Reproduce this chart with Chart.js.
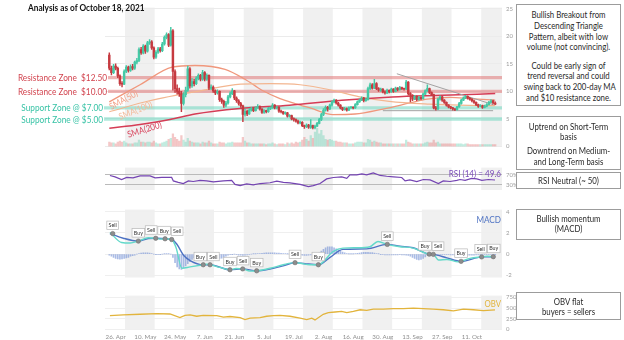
<!DOCTYPE html>
<html>
<head>
<meta charset="utf-8">
<script src="https://cdn.jsdelivr.net/npm/chart.js@4.4.1/dist/chart.umd.min.js"></script>
<style>
  html, body { margin: 0; padding: 0; background: #fff; }
  #wrap { position: relative; width: 624px; height: 340px; overflow: hidden; font-family: Lato, 'Open Sans', sans-serif; }
  canvas { position: absolute; left: 0; }
  #title { position: absolute; left: 28px; top: 2px; font-weight: bold; font-size: 9.6px; line-height: 12px; color: #111; white-space: nowrap; transform: scaleX(0.86); transform-origin: 0 0; }
  .box { position: absolute; left: 516px; width: 105px; border: 1px solid #9c9c9c; box-sizing: border-box; background: #fff; color: #2a2a2a; font-size: 9px; line-height: 10.8px; text-align: center; }
  .box .t { transform: scaleX(0.87); transform-origin: 50% 0; white-space: nowrap; }
  .box .gap { height: 7.5px; }
</style>
</head>
<body>
<div id="wrap">
  <canvas id="cMain" width="624" height="160" style="top:0;width:624px;height:160px"></canvas>
  <canvas id="cRsi" width="624" height="42" style="top:160px;width:624px;height:42px"></canvas>
  <canvas id="cMacd" width="624" height="88" style="top:202px;width:624px;height:88px"></canvas>
  <canvas id="cObv" width="624" height="52" style="top:288px;width:624px;height:52px"></canvas>

  <div id="title">Analysis as of October 18, 2021</div>

  <div class="box" style="top:4px;height:102px;padding-top:5px"><div class="t">
    Bullish Breakout from<br>Descending Triangle<br>Pattern, albeit with low<br>volume (not convincing).
    <div class="gap"></div>
    Could be early sign of<br>trend reversal and could<br>swing back to 200-day MA<br>and $10 resistance zone.
  </div></div>
  <div class="box" style="top:116px;height:54px;padding-top:4.5px"><div class="t">
    Uptrend on Short-Term<br>basis
    <div class="gap" style="height:3.4px"></div>
    Downtrend on Medium-<br>and Long-Term basis
  </div></div>
  <div class="box" style="top:172px;height:17px;padding-top:2.5px"><div class="t">RSI Neutral (~ 50)</div></div>
  <div class="box" style="top:209px;height:31px;padding-top:3.5px"><div class="t">Bullish momentum<br>(MACD)</div></div>
  <div class="box" style="top:292px;height:28px;padding-top:3.5px"><div class="t">OBV flat<br>buyers = sellers</div></div>
</div>

<script>
// ---------- time axis: day 0 = 23 Apr 2021 ----------
const tickDays   = [3, 17, 31, 45, 59, 73, 87, 101, 115, 129, 143, 157, 171];
const tickLabels = ['26. Apr', '10. May', '24. May', '7. Jun', '21. Jun', '5. Jul', '19. Jul',
                    '2. Aug', '16. Aug', '30. Aug', '13. Sep', '27. Sep', '11. Oct'];
const bandStarts = [7.4, 35.4, 63.4, 91.4, 119.4, 147.4, 175.4];   // shaded fortnights
const BAND_DAYS = 14;
const X_MIN = -2.03, X_MAX = 185.2;

// ---------- daily price candles (USD) ----------
const firstOpen = 16.6;
const close = [
  14.2, 13.4, 14.6, 14.2, 12.8, 11.4, 11.3, 13.6, 14.4, 13.8,
  14.5, 14.2, 15.3, 15.6, 17.6, 17.0, 18.2, 17.3, 18.8, 19.0,
  17.9, 16.2, 17.1, 17.7, 17.4, 18.6, 19.8, 20.3, 18.4, 21.0,
  13.6, 10.5, 10.0, 9.6, 7.8, 9.4, 10.2, 14.1, 11.0, 11.8,
  11.4, 12.4, 12.9, 12.2, 13.4, 12.2, 12.9, 10.6, 10.8, 10.1,
  9.7, 10.0, 8.5, 8.2, 7.5, 7.9, 9.0, 9.6, 10.1, 8.8,
  8.3, 7.8, 7.4, 5.8, 6.4, 5.9, 6.6, 6.9, 6.5, 7.0,
  7.3, 6.8, 6.2, 6.5, 6.3, 6.9, 7.0, 7.5, 7.0, 7.1,
  6.4, 6.3, 6.0, 6.1, 5.5, 5.6, 5.0, 4.9, 4.6, 4.3,
  4.4, 3.8, 3.6, 3.9, 3.5, 3.8, 3.4, 3.7, 4.2, 4.9,
  5.8, 6.6, 7.1, 6.8, 7.5, 8.1, 8.4, 7.9, 7.5, 7.0,
  6.7, 6.9, 6.6, 7.0, 7.1, 7.0, 7.6, 8.1, 8.4, 8.8,
  8.3, 8.5, 10.5, 11.2, 10.6, 11.4, 10.5, 10.2, 10.4, 9.9,
  9.7, 10.2, 9.9, 10.4, 10.0, 10.6, 10.3, 10.7, 10.5, 10.4,
  11.7, 9.6, 9.3, 8.6, 9.1, 8.5, 8.9, 8.7, 9.5, 10.1,
  10.5, 9.8, 9.4, 7.0, 6.8, 8.6, 9.0, 8.4, 8.0, 7.5,
  7.2, 7.0, 6.8, 6.7, 7.2, 7.8, 8.4, 8.8, 9.1, 8.8,
  8.6, 8.3, 8.0, 7.6, 7.3, 7.4, 7.1, 7.3, 7.6, 8.0,
  8.3, 7.9, 7.7
];
const high = [
  17.0, 14.6, 14.9, 15.0, 14.4, 13.0, 11.8, 13.9, 14.7, 14.6,
  14.8, 14.9, 15.5, 16.0, 17.9, 18.0, 18.5, 18.4, 19.1, 19.4,
  19.2, 18.1, 17.4, 18.0, 18.0, 18.9, 20.1, 20.6, 20.5, 21.6,
  21.2, 13.9, 11.2, 10.6, 10.0, 9.8, 10.8, 14.6, 14.3, 12.3,
  12.2, 12.7, 13.2, 13.1, 13.8, 13.6, 13.2, 13.0, 11.2, 11.0,
  10.3, 10.3, 10.1, 8.8, 8.4, 8.2, 9.3, 9.9, 10.5, 10.2,
  9.0, 8.5, 8.0, 7.5, 6.8, 6.6, 6.9, 7.1, 7.0, 7.2,
  7.6, 7.4, 6.9, 6.7, 6.6, 7.1, 7.2, 7.8, 7.6, 7.3,
  7.2, 6.6, 6.4, 6.3, 6.2, 5.8, 5.7, 5.2, 5.0, 4.8,
  4.6, 4.5, 3.9, 4.1, 4.0, 4.9, 3.9, 3.9, 4.4, 5.1,
  6.0, 6.9, 7.4, 7.3, 7.7, 8.3, 8.6, 8.5, 8.0, 7.6,
  7.1, 7.1, 7.0, 7.2, 7.3, 7.2, 7.8, 8.3, 8.6, 9.0,
  8.9, 8.8, 10.8, 11.5, 11.4, 12.2, 11.6, 10.7, 10.6, 10.5,
  10.1, 10.4, 10.3, 10.6, 10.5, 10.8, 10.7, 10.9, 10.8, 10.6,
  12.0, 11.8, 9.8, 9.4, 9.3, 9.2, 9.1, 9.0, 9.7, 10.3,
  11.2, 10.6, 9.9, 9.5, 7.3, 8.8, 9.2, 9.1, 8.5, 8.1,
  7.6, 7.3, 7.1, 6.9, 7.3, 8.0, 8.6, 9.0, 9.3, 9.2,
  8.9, 8.7, 8.4, 8.1, 7.7, 7.6, 7.5, 7.5, 7.8, 8.2,
  8.5, 8.4, 8.1
];
const low = [
  13.9, 13.0, 13.2, 13.9, 12.5, 11.1, 10.8, 11.2, 13.4, 13.5,
  13.6, 13.9, 14.0, 15.0, 15.4, 16.7, 16.8, 16.9, 17.1, 18.5,
  17.6, 15.9, 16.0, 16.9, 17.1, 17.2, 18.4, 19.5, 18.1, 18.2,
  10.2, 9.8, 9.5, 9.1, 6.3, 7.5, 9.0, 10.0, 10.6, 10.7,
  11.0, 11.2, 12.1, 11.9, 12.0, 11.9, 12.0, 10.3, 10.3, 9.8,
  9.4, 9.5, 8.2, 7.8, 7.1, 7.2, 7.7, 8.8, 9.4, 8.5,
  8.0, 7.5, 7.1, 4.5, 5.5, 5.6, 5.8, 6.4, 6.3, 6.4,
  6.9, 6.6, 6.0, 6.0, 6.1, 6.2, 6.7, 6.9, 6.8, 6.8,
  6.2, 6.1, 5.8, 5.8, 5.3, 5.3, 4.8, 4.6, 4.4, 4.1,
  4.1, 3.6, 3.3, 3.4, 3.3, 3.3, 3.2, 3.2, 3.6, 4.1,
  4.7, 5.6, 6.4, 6.4, 6.7, 7.3, 7.9, 7.7, 7.3, 6.8,
  6.5, 6.6, 6.4, 6.5, 6.9, 6.8, 6.9, 7.5, 8.0, 8.3,
  8.1, 8.2, 8.4, 10.3, 10.4, 10.5, 10.3, 10.0, 10.0, 9.7,
  9.5, 9.6, 9.7, 9.8, 9.8, 9.9, 10.1, 10.2, 10.3, 10.2,
  10.3, 9.3, 8.1, 8.3, 8.5, 8.3, 8.4, 8.5, 8.6, 9.4,
  10.0, 9.6, 9.2, 6.8, 6.6, 6.7, 8.4, 8.2, 7.8, 7.3,
  7.0, 6.8, 6.6, 6.5, 6.6, 7.1, 7.7, 8.3, 8.7, 8.6,
  8.4, 8.1, 7.8, 7.4, 7.1, 7.2, 6.9, 7.0, 7.2, 7.5,
  7.9, 7.7, 7.6
];
// daily volume (millions)
const volume = [
  50, 40, 40, 30, 50, 60, 50, 60, 40, 30,
  30, 30, 40, 40, 70, 50, 50, 40, 50, 50,
  40, 60, 40, 30, 30, 40, 50, 60, 80, 90,
  140, 100, 80, 60, 120, 70, 50, 90, 60, 50,
  40, 40, 40, 30, 50, 40, 40, 60, 40, 30,
  30, 30, 50, 40, 40, 30, 40, 40, 50, 40,
  40, 40, 40, 100, 60, 40, 40, 30, 30, 30,
  30, 30, 30, 30, 20, 30, 30, 40, 30, 20,
  30, 30, 30, 20, 40, 30, 40, 30, 50, 40,
  50, 70, 100, 80, 60, 120, 90, 160, 200, 140,
  180, 120, 80, 70, 80, 70, 60, 60, 50, 50,
  40, 40, 40, 30, 30, 30, 40, 50, 50, 50,
  40, 40, 80, 70, 50, 60, 50, 40, 40, 30,
  30, 30, 30, 30, 30, 30, 30, 30, 30, 30,
  70, 50, 40, 30, 30, 30, 30, 30, 30, 40,
  50, 40, 40, 70, 40, 50, 30, 30, 30, 30,
  30, 30, 30, 30, 30, 30, 30, 20, 30, 30,
  20, 20, 20, 20, 20, 20, 20, 20, 20, 20,
  20, 20, 20
];

// ---------- moving averages ----------
const sma50Days  = [0, 14.5, 29.6, 40.4, 54.6, 64, 72, 80.5, 87.6, 94.7, 105.5, 115.9, 129.1, 141.8, 149.9, 160.7, 170.1, 182];
const sma50      = [8.1, 11.2, 14.4, 14.7, 14.0, 12.2, 10.2, 8.7, 7.8, 7.0, 5.8, 5.9, 6.8, 7.9, 8.6, 8.9, 8.7, 8.4];
const sma100Days = [0, 19, 43, 62, 76, 90, 104, 118, 132, 151, 165, 182];
const sma100     = [6.3, 8.3, 10.1, 11.3, 11.4, 11.2, 10.3, 9.0, 8.2, 7.7, 7.5, 7.4];
const sma200Days = [0, 14.5, 28.6, 40.4, 61.7, 85, 109.6, 133.4, 157, 182];
const sma200     = [3.3, 4.0, 4.9, 5.9, 6.9, 7.5, 8.4, 9.0, 9.3, 9.6];

// ---------- zones and triangle ----------
const resistanceLevels = [12.5, 10];
const supportLevels    = [7, 5];
const triUpperDays = [135.6, 181];
const triUpper     = [13.2, 7.6];
const triBaseDays  = [129, 181];
const triBase      = [6.5, 6.5];

// ---------- RSI (14) ----------
const rsiDays = [0.3, 2.7, 5.8, 8.2, 11.2, 14.5, 19.2, 21.6, 24.7, 29.4, 30.2, 32.5, 34.9, 37.3, 39.6,
  42.8, 45.9, 49.1, 53.8, 57.7, 59.3, 61.7, 64.8, 67.9, 71.1, 75.8, 79, 82.1, 85.2, 90, 93.9, 96.2,
  99.4, 102.5, 105.7, 109.6, 112, 113.5, 116.7, 119.1, 121.4, 124.5, 127.7, 130.8, 134, 137.9, 139.5,
  141.8, 145, 148.1, 151.3, 155.2, 157.5, 160.7, 163.9, 165.4, 167.8, 170.9, 173.3, 175.7, 178.8, 181.9];
const rsiValues = [67.6, 62, 51.6, 59.6, 58, 66, 66, 58, 59.6, 59.6, 46, 40.5, 35.6, 46, 43.6,
  48.4, 46, 42, 46, 48.4, 32, 27.5, 34, 30, 35.6, 38.8, 45, 40.5, 38, 32, 23.7, 27.5,
  35.6, 54, 59.6, 62, 56, 70, 70, 74, 70, 78, 67.6, 64.5, 62, 59.6, 46,
  50, 43.6, 51.6, 50, 35.6, 46, 43.6, 48.4, 51.6, 48.4, 56, 54, 48.4, 51.6, 49.6];
const rsiLast = 49.6;

// ---------- MACD ----------
const macdDays = [0.3, 5.8, 9.8, 13.7, 18.4, 21.9, 23.9, 26.3, 29.4, 31.5, 34.2, 38.1, 44.3, 45.9, 47.5,
  52.2, 56.9, 59.8, 62.9, 66.4, 69.5, 75.8, 82, 87.6, 90, 94.7, 98.6, 105.5, 110.2, 116.8, 122.9,
  126.7, 131.1, 137.1, 143.3, 148, 150.9, 152.8, 155.2, 159.2, 164.6, 165.9, 170.1, 175.6, 178.2, 181.1, 181.9];
const macdValues = [2.05, 1.1, 1.05, 1.23, 1.55, 1.5, 1.42, 1.45, 1.38, 0.6, -1.33, -1.2, -1.0, -0.95, -1.0,
  -1.25, -1.47, -1.35, -1.39, -1.6, -1.57, -1.33, -1.0, -0.8, -0.86, -1.0, -1.0, 0.24, 0.57, 0.6, 0.7,
  1.2, 0.92, 0.7, 0.57, 0.18, 0.0, -0.02, -0.55, -0.5, -0.73, -0.68, -0.4, -0.26, -0.2, -0.24, -0.2];
const signalDays = [0.3, 6.6, 13.7, 18.4, 21.9, 26.3, 29.4, 31.8, 34.9, 38.1, 44.3, 47.5, 56.9, 62.9, 69.5,
  75.8, 82, 87.6, 92.3, 98.6, 104.1, 110.2, 121.4, 131.1, 137.1, 143.3, 150.9, 152.8, 159.2, 165.9,
  175.6, 181.1, 181.9];
const signalValues = [1.95, 1.5, 1.23, 1.48, 1.5, 1.45, 1.38, 0.96, -0.08, -0.6, -1.0, -1.0, -1.47, -1.39, -1.57,
  -1.4, -1.1, -0.8, -0.9, -1.0, -0.3, 0.45, 0.5, 0.92, 0.75, 0.6, 0.0, -0.02, -0.35, -0.68,
  -0.26, -0.24, -0.23];
const macdHist = [
  -0.1, -0.2, -0.3, -0.4, -0.45, -0.47, -0.45, -0.4, -0.35, -0.3,
  -0.2, -0.15, -0.1, 0.0, 0.05, 0.1, 0.12, 0.13, 0.12, 0.1,
  0.05, 0.0, -0.02, -0.03, -0.02, 0.0, 0.02, 0.03, 0.02, 0.0,
  -0.3, -0.8, -1.2, -1.4, -1.43, -1.3, -1.1, -0.9, -0.7, -0.5,
  -0.35, -0.25, -0.15, -0.05, 0.0, 0.02, 0.02, 0.0, -0.1, -0.2,
  -0.3, -0.38, -0.4, -0.38, -0.3, -0.2, -0.1, -0.05, -0.02, 0.0,
  -0.05, -0.1, -0.1, -0.12, -0.1, -0.08, -0.05, 0.0, 0.02, 0.03,
  0.05, 0.06, 0.08, 0.1, 0.12, 0.13, 0.13, 0.12, 0.12, 0.1,
  0.1, 0.08, 0.06, 0.05, 0.03, 0.02, 0.01, 0.0, -0.02, -0.05,
  -0.08, -0.1, -0.12, -0.12, -0.1, -0.08, -0.05, -0.03, 0.0, 0.15,
  0.3, 0.45, 0.6, 0.68, 0.7, 0.68, 0.6, 0.5, 0.4, 0.3,
  0.2, 0.12, 0.06, 0.02, 0.02, 0.03, 0.05, 0.08, 0.1, 0.14,
  0.17, 0.18, 0.18, 0.16, 0.14, 0.1, 0.06, 0.02, -0.02, -0.04,
  -0.06, -0.08, -0.08, -0.08, -0.08, -0.08, -0.06, -0.05, -0.06, -0.08,
  -0.1, -0.12, -0.2, -0.3, -0.4, -0.5, -0.55, -0.5, -0.4, -0.25,
  -0.1, -0.05, -0.03, -0.04, -0.05, -0.06, -0.05, -0.04, -0.04, -0.04,
  -0.05, -0.06, -0.06, -0.06, -0.05, -0.04, -0.06, -0.08, -0.1, -0.1,
  -0.1, -0.1, -0.09, -0.08, -0.07, -0.06, -0.05, -0.04, -0.04, -0.03,
  -0.03, -0.03, -0.02
];
const crossDays   = [1.6, 13.7, 21.9, 26.3, 29.4, 44.3, 47.5, 56.9, 62.9, 69.5, 87.6, 98.6, 131.1, 150.9, 152.8, 165.9, 175.6, 181.1];
const crossValues = [1.94, 1.23, 1.5, 1.45, 1.38, -1.0, -1.0, -1.47, -1.39, -1.57, -0.8, -1.0, 0.92, 0.0, -0.02, -0.68, -0.26, -0.24];
const crossLabels = ['Sell', 'Buy', 'Sell', 'Buy', 'Sell', 'Buy', 'Sell', 'Buy', 'Sell', 'Buy', 'Sell', 'Buy', 'Sell', 'Buy', 'Sell', 'Buy', 'Sell', 'Buy'];

// ---------- On-Balance Volume (millions) ----------
const obvDays = [0.3, 6.6, 14.5, 22.4, 28.6, 33.3, 35.7, 38.1, 41.2, 44.3, 50.7, 53.8, 56.9, 61.7, 64,
  66.4, 71.1, 74.2, 77.4, 80.5, 85.2, 90, 93.1, 95.5, 97, 100.9, 103.3, 106.5, 109.6, 112,
  115.1, 118.3, 121.4, 124.5, 129.2, 134, 138.7, 143.4, 148.1, 152.8, 157.5, 162.3, 167, 171.7, 176.4, 181.9];
const obvValues = [322, 342, 355, 369, 361, 276, 329, 342, 309, 329, 322, 290, 303, 276, 230,
  263, 276, 309, 322, 329, 309, 263, 230, 263, 223, 355, 395, 408, 421, 395,
  421, 460, 447, 474, 474, 487, 487, 500, 487, 474, 460, 434, 474, 460, 440, 455];

// ---------- axis ticks ----------
const priceTicks = [0, 5, 10, 15, 20, 25];
const rsiTicks   = [30, 70];
const macdTicks  = [-2, 0, 2, 4];
const obvTicks   = [0, 250, 500, 750];

// ---------- colours ----------
const GREEN = '#45c9a6', RED = '#c63a40';
const VOL_GREEN = 'rgba(110,210,182,0.42)', VOL_RED = 'rgba(228,125,125,0.42)';
const RES_COLOR = '#d2444f', SUP_COLOR = '#38c3a6';

// open of each session = previous session's close (24/7 market)
const open = [firstOpen].concat(close.slice(0, -1));
const days = close.map((_, i) => i);
const candleColors = close.map((c, i) => c >= open[i] ? GREEN : RED);
const volColors = close.map((c, i) => c >= open[i] ? VOL_GREEN : VOL_RED);
const pts = (xs, ys) => xs.map((x, i) => ({ x: x, y: ys[i] }));

Chart.defaults.font.family = 'Lato';

function drawCondensed(ctx, text, x, y, align, font, color, sx) {
  ctx.save();
  ctx.font = font;
  ctx.fillStyle = color;
  ctx.textBaseline = 'middle';
  ctx.textAlign = 'left';
  const w = ctx.measureText(text).width * sx;
  const left = align === 'right' ? x - w : (align === 'center' ? x - w / 2 : x);
  ctx.translate(left, y);
  ctx.scale(sx, 1);
  ctx.fillText(text, 0, 0);
  ctx.restore();
}

function xScale(show) {
  return {
    type: 'linear', min: X_MIN, max: X_MAX, offset: false, display: show,
    grid: { display: false, drawTicks: false, offset: false },
    border: { display: false },
    afterBuildTicks: s => { s.ticks = tickDays.map(v => ({ value: v })); },
    afterFit: s => { s.height = 10; },
    ticks: {
      autoSkip: false, maxRotation: 0, padding: 4, color: '#8f8f8f', font: { size: 6.2 },
      callback: v => tickLabels[tickDays.indexOf(v)]
    }
  };
}
function yScale(min, max, ticks, fmt, gridColor) {
  return {
    position: 'right', min: min, max: max,
    grid: { color: gridColor, lineWidth: 1, drawTicks: false },
    border: { display: false },
    afterBuildTicks: s => { s.ticks = ticks.map(v => ({ value: v })); },
    afterFit: s => { s.width = 20; },
    ticks: { color: '#9d9d9d', padding: 4, font: { size: 6 }, callback: fmt }
  };
}
function baseOptions(pad, scales) {
  return {
    responsive: false, animation: false, devicePixelRatio: 1,
    layout: { padding: Object.assign({ left: 105, right: 102 }, pad) },
    plugins: { legend: { display: false }, tooltip: { enabled: false } },
    scales: scales
  };
}

// alternating fortnight shading behind every panel
const bandsPlugin = {
  id: 'bands',
  beforeDraw(chart) {
    const { ctx, chartArea: a, scales: { x } } = chart;
    ctx.save();
    ctx.fillStyle = '#f0f0f0';
    bandStarts.forEach(d => {
      const x0 = Math.max(x.getPixelForValue(d), a.left);
      const x1 = Math.min(x.getPixelForValue(d + BAND_DAYS), a.right);
      if (x1 > x0) ctx.fillRect(x0, a.top, x1 - x0, a.bottom - a.top);
    });
    ctx.restore();
  }
};

// support / resistance zones with their captions, and the moving-average captions
const zones = resistanceLevels.map(l => ({ level: l, text: 'Resistance Zone  $' + l.toFixed(2), color: RES_COLOR, line: 'rgba(222,105,105,0.5)', right: 107 }))
  .concat(supportLevels.map(l => ({ level: l, text: 'Support Zone @ $' + l.toFixed(2), color: SUP_COLOR, line: 'rgba(95,212,185,0.5)', right: 103 })));
const smaCaptions = [
  { text: 'SMA(50)',  day: 6.7,  days: sma50Days,  vals: sma50,  color: '#f2a188', angle: -29 },
  { text: 'SMA(100)', day: 12.4, days: sma100Days, vals: sma100, color: '#f3b999', angle: -22 },
  { text: 'SMA(200)', day: 16.6, days: sma200Days, vals: sma200, color: '#d8435c', angle: -17 }
];
function valueAt(xs, ys, d) {
  for (let i = 1; i < xs.length; i++) {
    if (d <= xs[i]) { const t = (d - xs[i - 1]) / (xs[i] - xs[i - 1]); return ys[i - 1] + t * (ys[i] - ys[i - 1]); }
  }
  return ys[ys.length - 1];
}
const zonePlugin = {
  id: 'zones',
  beforeDatasetsDraw(chart) {
    const { ctx, chartArea: a, scales: { y } } = chart;
    ctx.save();
    ctx.lineWidth = 3.4;
    zones.forEach(z => {
      const py = y.getPixelForValue(z.level);
      ctx.strokeStyle = z.line;
      ctx.beginPath(); ctx.moveTo(z.right + 1, py); ctx.lineTo(a.right, py); ctx.stroke();
    });
    ctx.restore();
  },
  afterDraw(chart) {
    const { ctx, scales: { x, y } } = chart;
    zones.forEach(z => {
      drawCondensed(ctx, z.text, z.right, y.getPixelForValue(z.level) + 0.5, 'right', '9.5px Lato', z.color, 0.87);
    });
    smaCaptions.forEach(c => {
      const px = x.getPixelForValue(c.day);
      const py = y.getPixelForValue(valueAt(c.days, c.vals, c.day)) + 6;
      ctx.save();
      ctx.translate(px, py);
      ctx.rotate(c.angle * Math.PI / 180);
      drawCondensed(ctx, c.text, 0, 0, 'center', '9.2px Lato', c.color, 0.87);
      ctx.restore();
    });
  }
};

// ---------- price panel ----------
new Chart(document.getElementById('cMain'), {
  type: 'bar',
  data: {
    datasets: [
      { type: 'bar', label: 'Volume', yAxisID: 'yv', data: pts(days, volume), backgroundColor: volColors, barThickness: 1.6, grouped: false, order: 10 },
      { type: 'line', label: 'SMA(200)', data: pts(sma200Days, sma200), borderColor: '#d53c55', borderWidth: 1.5, pointRadius: 0, cubicInterpolationMode: 'monotone', order: 5 },
      { type: 'line', label: 'SMA(100)', data: pts(sma100Days, sma100), borderColor: '#f3b690', borderWidth: 1.2, pointRadius: 0, cubicInterpolationMode: 'monotone', order: 5 },
      { type: 'line', label: 'SMA(50)',  data: pts(sma50Days, sma50),   borderColor: '#f0977c', borderWidth: 1.3, pointRadius: 0, cubicInterpolationMode: 'monotone', order: 5 },
      { type: 'line', label: 'Triangle top',  data: pts(triUpperDays, triUpper), borderColor: '#a3a3a3', borderWidth: 1, pointRadius: 0, order: 4 },
      { type: 'line', label: 'Triangle base', data: pts(triBaseDays, triBase),   borderColor: '#a3a3a3', borderWidth: 1, pointRadius: 0, order: 4 },
      { type: 'bar', label: 'Range', data: days.map(d => ({ x: d, y: [low[d], high[d]] })), backgroundColor: candleColors, barThickness: 0.8, grouped: false, order: 2 },
      { type: 'bar', label: 'Body',  data: days.map(d => ({ x: d, y: [open[d], close[d]] })), backgroundColor: candleColors, barThickness: 1.8, minBarLength: 0.8, grouped: false, order: 1 }
    ]
  },
  options: baseOptions({ top: 3, bottom: 3.5 }, {
    x: xScale(false),
    y: yScale(0, 25.2, priceTicks, v => v, '#ebebeb'),
    yv: { display: false, min: 0, max: 1535 }
  }),
  plugins: [bandsPlugin, zonePlugin]
});

// ---------- RSI panel ----------
new Chart(document.getElementById('cRsi'), {
  type: 'line',
  data: { datasets: [
    { label: 'RSI (14)', data: pts(rsiDays, rsiValues), borderColor: '#7444b2', borderWidth: 1.2, pointRadius: 0, tension: 0 }
  ]},
  options: baseOptions({ top: 3, bottom: 2 }, {
    x: xScale(false),
    y: yScale(10, 98.7, rsiTicks, v => v + '%', '#bababa')
  }),
  plugins: [bandsPlugin, {
    id: 'rsiTitle',
    afterDraw(chart) {
      const a = chart.chartArea;
      drawCondensed(chart.ctx, 'RSI (14) = ' + rsiLast.toFixed(1), a.right - 1, a.top + 6.5, 'right', '9.3px Lato', '#7a4cb8', 0.87);
    }
  }]
});

// crossover captions: boxes that would collide are spread side by side
function layoutCaptions(items, gap) {
  const groups = [];
  items.forEach(it => {
    const g = groups[groups.length - 1];
    if (g) {
      const last = g.items[g.items.length - 1];
      if (it.cx - it.w / 2 < last.left + last.w + gap && Math.abs(it.top - last.top) < it.h) {
        g.items.push(it); place(g); return;
      }
    }
    const ng = { items: [it] }; place(ng); groups.push(ng);
  });
  function place(g) {
    const total = g.items.reduce((s, it) => s + it.w, 0) + gap * (g.items.length - 1);
    const mid = g.items.reduce((s, it) => s + it.cx, 0) / g.items.length;
    let left = mid - total / 2;
    g.items.forEach(it => { it.left = left; left += it.w + gap; });
  }
  return items;
}

// ---------- MACD panel ----------
new Chart(document.getElementById('cMacd'), {
  type: 'bar',
  data: { datasets: [
    { type: 'bar', label: 'Histogram', data: pts(days, macdHist), backgroundColor: 'rgba(112,142,212,0.6)', barThickness: 1, grouped: false, order: 10 },
    { type: 'line', label: 'Signal', data: pts(signalDays, signalValues), borderColor: '#4f73c3', borderWidth: 1.4, pointRadius: 0, cubicInterpolationMode: 'monotone', order: 3 },
    { type: 'line', label: 'MACD', data: pts(macdDays, macdValues), borderColor: '#63d9ca', borderWidth: 1.4, pointRadius: 0, cubicInterpolationMode: 'monotone', order: 2 },
    { type: 'line', label: 'Crossovers', data: pts(crossDays, crossValues), showLine: false, pointRadius: 2.2, pointBackgroundColor: '#8d8d8d', pointBorderColor: '#6f6f6f', pointBorderWidth: 0.6, order: 1 }
  ]},
  options: baseOptions({ top: 3.5, bottom: 2.5 }, {
    x: xScale(false),
    y: yScale(-2.2, 4.2, macdTicks, v => v, '#efefef')
  }),
  plugins: [bandsPlugin, {
    id: 'crossLabels',
    afterDatasetsDraw(chart) {
      const ctx = chart.ctx;
      const meta = chart.getDatasetMeta(3);
      ctx.save();
      ctx.font = '5.3px Lato';
      ctx.textAlign = 'center';
      ctx.textBaseline = 'middle';
      const h = 8.5;
      const items = meta.data.map((pt, i) => ({
        text: crossLabels[i], cx: pt.x, w: ctx.measureText(crossLabels[i]).width + 3.6, h: h, top: pt.y - 4 - h
      }));
      layoutCaptions(items, 0.8).forEach(it => {
        ctx.fillStyle = '#ffffff';
        ctx.fillRect(it.left, it.top, it.w, it.h);
        ctx.strokeStyle = '#b8b8b8';
        ctx.lineWidth = 0.7;
        ctx.strokeRect(it.left, it.top, it.w, it.h);
        ctx.fillStyle = '#333';
        ctx.fillText(it.text, it.left + it.w / 2, it.top + it.h / 2 + 0.3);
      });
      ctx.restore();
    },
    afterDraw(chart) {
      const a = chart.chartArea;
      drawCondensed(chart.ctx, 'MACD', a.right - 1, a.top + 10.5, 'right', '9.4px Lato', '#4f73c3', 0.87);
    }
  }]
});

// ---------- OBV panel ----------
new Chart(document.getElementById('cObv'), {
  type: 'line',
  data: { datasets: [
    { label: 'OBV', data: pts(obvDays, obvValues), borderColor: '#e2b43c', borderWidth: 1.3, pointRadius: 0, tension: 0 }
  ]},
  options: baseOptions({ top: 1, bottom: 0.5 }, {
    x: xScale(true),
    y: yScale(0, 790, obvTicks, v => v, '#efefef')
  }),
  plugins: [bandsPlugin, {
    id: 'obvTitle',
    afterDraw(chart) {
      const a = chart.chartArea;
      drawCondensed(chart.ctx, 'OBV', a.right - 1, a.top + 8.7, 'right', '9px Lato', '#e2b43c', 0.87);
    }
  }]
});
</script>
</body>
</html>
